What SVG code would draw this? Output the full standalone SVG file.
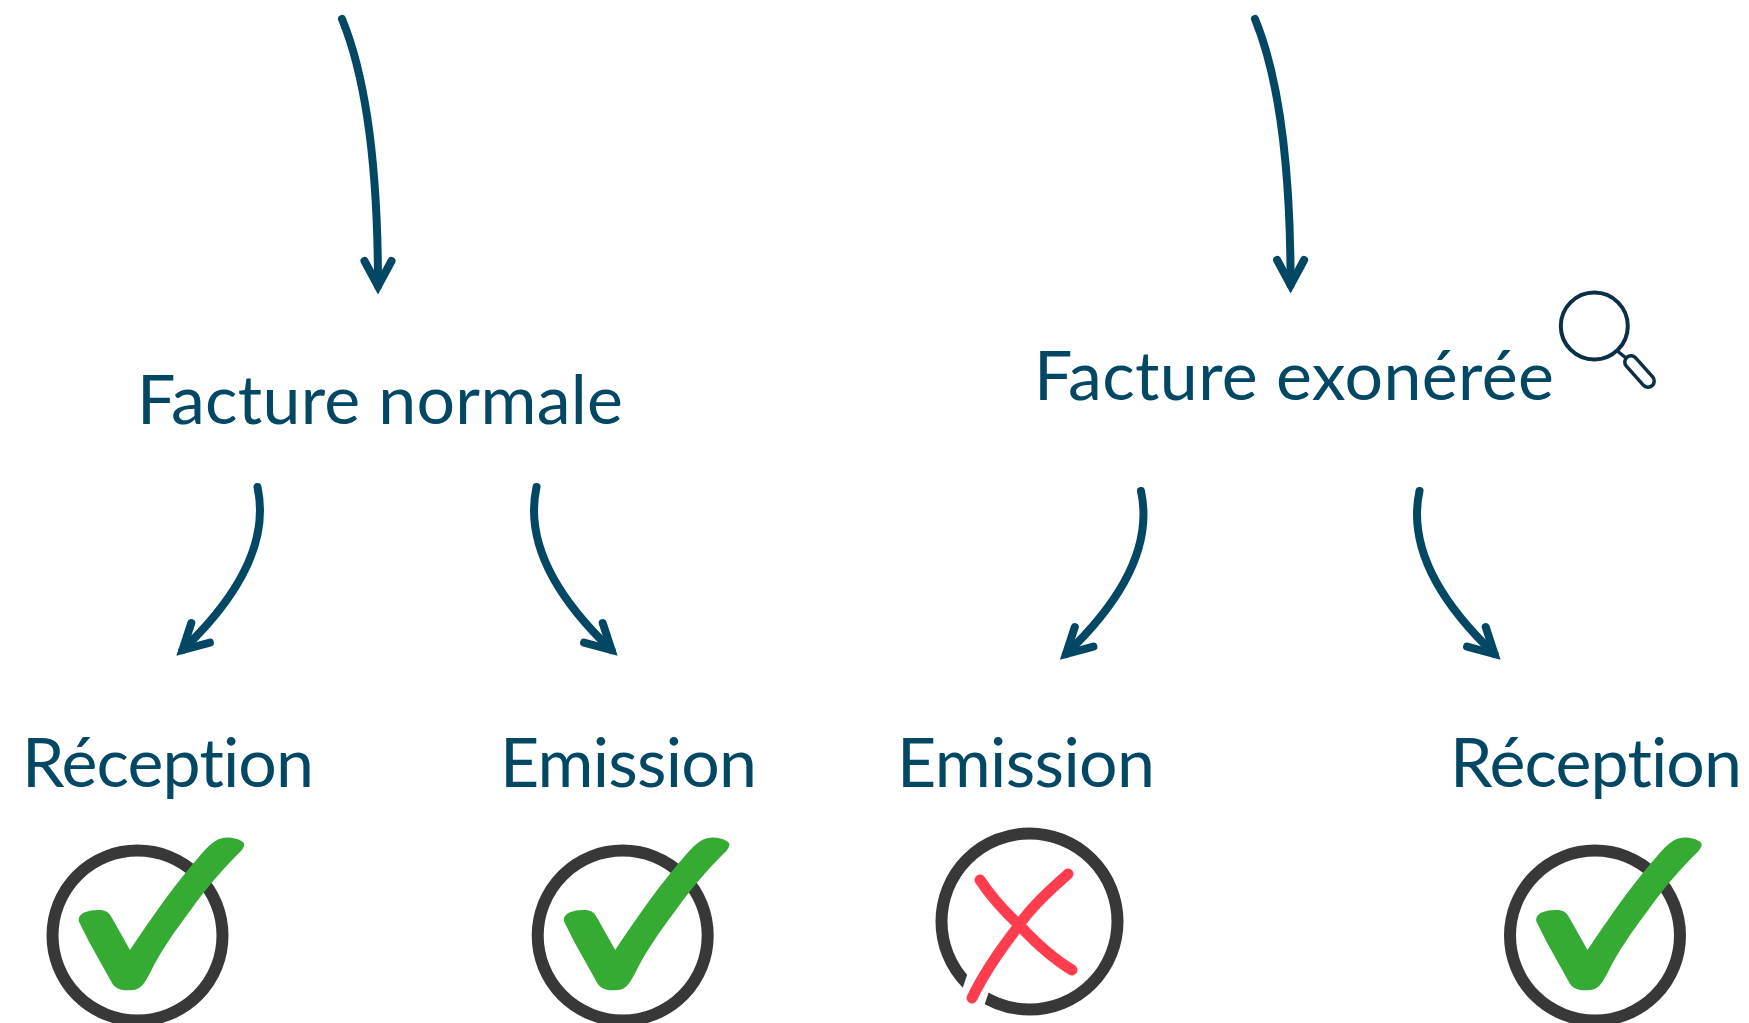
<svg xmlns="http://www.w3.org/2000/svg" width="1749" height="1023" viewBox="0 0 1749 1023">
  <style>
    .label { font-family: "Lato", "Open Sans", sans-serif; font-size: 68px; fill: #024764; font-variant-ligatures: none; }
    .conn { fill: none; stroke: #024764; stroke-width: 8; stroke-linecap: round; }
    .ring { fill: none; stroke: #383838; stroke-width: 12; }
    .tick { fill: #36AB33; }
    .cross { fill: none; stroke: #FF3D4F; stroke-width: 11; stroke-linecap: round; }
    .lens { fill: none; stroke: #0B2F47; stroke-width: 4; }
  </style>
  <defs>
    <marker id="head" markerUnits="userSpaceOnUse" orient="auto" refX="0" refY="0" markerWidth="1" markerHeight="1" style="overflow:visible">
      <path d="M-25 -13.5 L0 0 L-25 13.5" fill="none" stroke="#024764" stroke-width="8" stroke-linecap="round" stroke-linejoin="miter" stroke-miterlimit="6"/>
    </marker>
    <path id="tickmark" class="tick" d="M79 921.7 C77 913 88 910 99.5 910 C105 910 109 912 112 918 L130 950 C145 928 170 890 198 858 C208 846 216 837 228 837.5 C238 838 246 842 244 846 C242 851 239 853 237 855 C220 872 205 890 190 911 C175 931 160 952 150 973 C144 984 141 989 133 990 C124 991 116 990 112 983 L89 941.7 Z"/>
  </defs>

  <g id="connectors">
    <path class="conn" marker-end="url(#head)" d="M342 19 C365 75 378 165 378 286"/>
    <path class="conn" marker-end="url(#head)" d="M1255 19 C1278 75 1290.6 165 1290.6 285"/>
    <path class="conn" marker-end="url(#head)" d="M257.5 487 C270 545 235 600 182.5 650"/>
    <path class="conn" marker-end="url(#head)" d="M536.5 487 C524 545 559 600 611.5 650"/>
    <path class="conn" marker-end="url(#head)" d="M1141 491 C1153.5 549 1118.5 604 1066 654"/>
    <path class="conn" marker-end="url(#head)" d="M1419.5 491 C1407 549 1442 604 1494.5 654"/>
  </g>

  <g id="facture-normale">
    <text class="label" x="137" y="424" textLength="486" lengthAdjust="spacing">Facture normale</text>
  </g>
  <g id="facture-exoneree">
    <text class="label" x="1034" y="400" textLength="520" lengthAdjust="spacing">Facture exonérée</text>
    <g id="loupe">
      <circle class="lens" cx="1594.3" cy="326" r="33.5"/>
      <path d="M1618 351.5 L1626 358" fill="none" stroke="#0B2F47" stroke-width="3.5"/>
      <path d="M1631 362 L1648 381" fill="none" stroke="#0B2F47" stroke-width="16" stroke-linecap="round"/>
      <path d="M1631 362 L1648 381" fill="none" stroke="#FFFFFF" stroke-width="9" stroke-linecap="round"/>
    </g>
  </g>

  <g id="reception-normale">
    <text class="label" x="22" y="787" textLength="292" lengthAdjust="spacing">Réception</text>
    <circle class="ring" cx="137.5" cy="935.5" r="85"/>
    <use href="#tickmark"/>
  </g>
  <g id="emission-normale">
    <text class="label" x="500" y="787" textLength="257" lengthAdjust="spacing">Emission</text>
    <circle class="ring" cx="622.7" cy="935.5" r="85"/>
    <use href="#tickmark" x="485.2"/>
  </g>
  <g id="emission-exoneree">
    <text class="label" x="897" y="787" textLength="258" lengthAdjust="spacing">Emission</text>
    <circle class="ring" cx="1029.5" cy="921.5" r="88"/>
    <path d="M984.5 964 L966 1019" fill="none" stroke="#FFFFFF" stroke-width="26"/>
    <path class="cross" d="M1068 874 C1050 890 1030 908 1017 928 C1000 950 983 975 972 998"/>
    <path class="cross" d="M980 880 C990 895 1005 912 1020 926 C1035 942 1052 958 1072 970"/>
  </g>
  <g id="reception-exoneree">
    <text class="label" x="1450" y="787" textLength="292" lengthAdjust="spacing">Réception</text>
    <circle class="ring" cx="1595" cy="935.5" r="85"/>
    <use href="#tickmark" x="1457.5"/>
  </g>
</svg>
